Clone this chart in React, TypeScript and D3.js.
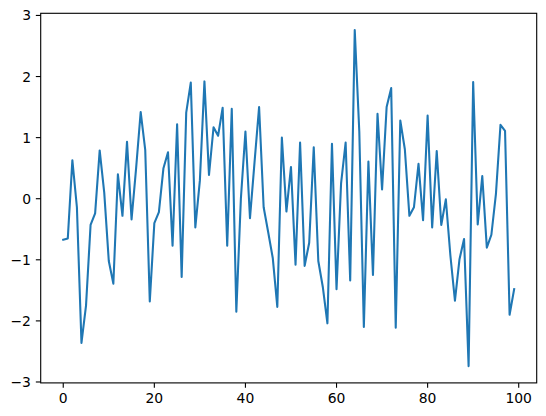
import React from "react";
import * as d3 from "d3";

const values: number[] = [
  -0.67, -0.65, 0.63, -0.14, -2.36, -1.75, -0.43, -0.24, 0.79, 0.1,
  -1.02, -1.39, 0.4, -0.28, 0.93, -0.34, 0.5, 1.42, 0.8, -1.68,
  -0.4, -0.22, 0.5, 0.76, -0.77, 1.22, -1.28, 1.41, 1.9, -0.47,
  0.3, 1.92, 0.39, 1.17, 1.03, 1.49, -0.77, 1.47, -1.85, 0.0,
  1.1, -0.32, 0.6, 1.5, -0.14, -0.55, -0.97, -1.77, 1.0, -0.21,
  0.52, -1.08, 0.92, -1.1, -0.72, 0.84, -1.02, -1.45, -2.04, 0.9,
  -1.48, 0.25, 0.92, -1.34, 2.76, 1.1, -2.1, 0.61, -1.25, 1.39,
  0.15, 1.5, 1.81, -2.11, 1.28, 0.81, -0.28, -0.14, 0.57, -0.35,
  1.36, -0.47, 0.78, -0.43, -0.01, -0.93, -1.67, -0.99, -0.66, -2.74,
  1.91, -0.42, 0.37, -0.8, -0.59, 0.08, 1.21, 1.11, -1.9, -1.48,
];
const xTicks: number[] = [0, 20, 40, 60, 80, 100];
const yTicks: number[] = [-3, -2, -1, 0, 1, 2, 3];

const W = 546;
const H = 416;
const left = 40.7;
const top = 13.3;
const pw = 496;
const ph = 369.6;
const tickLen = 4.86;
const pad = 4.86;

const fmt = (v: number) => (v < 0 ? "\u2212" + Math.abs(v) : String(v));

export default function App() {
  const n = values.length;
  const xPad = (n - 1) * 0.05;
  const x = d3.scaleLinear().domain([-xPad, n - 1 + xPad]).range([left, left + pw]);
  const ymin = d3.min(values)!;
  const ymax = d3.max(values)!;
  const yPad = (ymax - ymin) * 0.05;
  const y = d3.scaleLinear().domain([ymin - yPad, ymax + yPad]).range([top + ph, top]);
  const line = d3
    .line<number>()
    .x((_, i) => x(i))
    .y((d) => y(d));
  const font = "DejaVu Sans, sans-serif";
  return (
    <div style={{ position: "absolute", left: 0, top: 0 }}>
      <svg width={W} height={H} style={{ display: "block", background: "#fff" }}>
        <path d={line(values) || ""} fill="none" stroke="#1f77b4" strokeWidth={2.08} strokeLinejoin="round" strokeLinecap="square" />
        <rect x={left} y={top} width={pw} height={ph} fill="none" stroke="#000" strokeWidth={1.11} />
        {xTicks.map((t) => (
          <g key={"x" + t}>
            <line x1={x(t)} x2={x(t)} y1={top + ph} y2={top + ph + tickLen} stroke="#000" strokeWidth={1.11} />
            <text x={x(t)} y={top + ph + tickLen + pad} dy="0.76em" textAnchor="middle" fontFamily={font} fontSize={13.9} fill="#000">
              {fmt(t)}
            </text>
          </g>
        ))}
        {yTicks.map((t) => (
          <g key={"y" + t}>
            <line x1={left - tickLen} x2={left} y1={y(t)} y2={y(t)} stroke="#000" strokeWidth={1.11} />
            <text x={left - tickLen - pad} y={y(t)} dy="0.36em" textAnchor="end" fontFamily={font} fontSize={13.9} fill="#000">
              {fmt(t)}
            </text>
          </g>
        ))}
      </svg>
    </div>
  );
}
